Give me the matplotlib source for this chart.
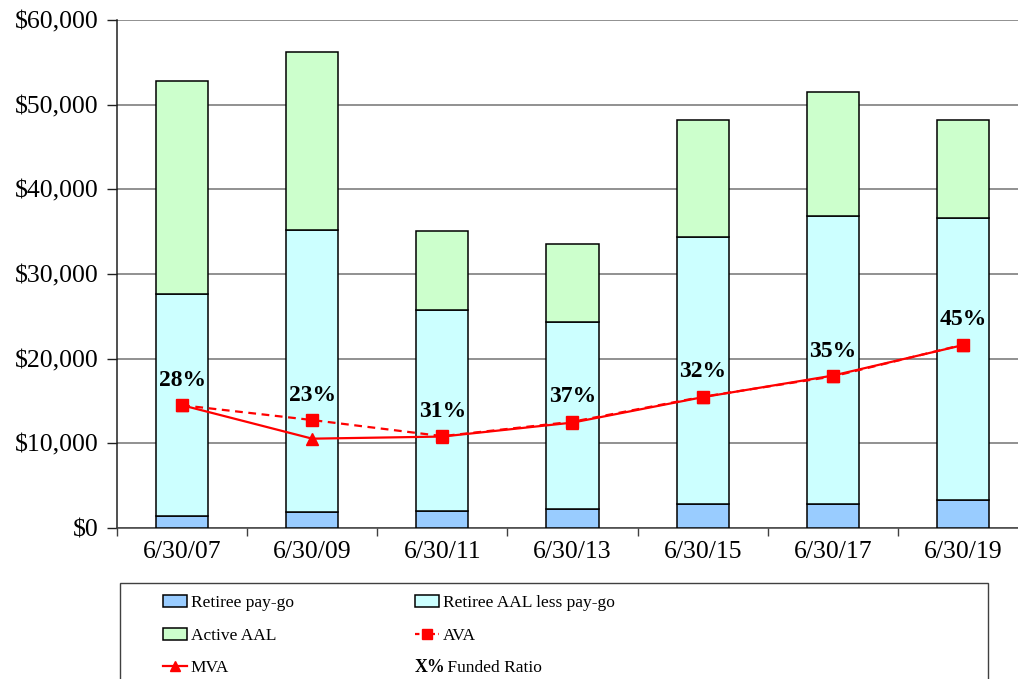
import matplotlib
matplotlib.use("Agg")
import matplotlib.pyplot as plt
import matplotlib.text as mtext
from matplotlib.lines import Line2D
from matplotlib.patches import Patch, Rectangle
import numpy as np

# valuation dates and liability / asset amounts ($ thousands)
datas = ["6/30/07", "6/30/09", "6/30/11", "6/30/13", "6/30/15", "6/30/17", "6/30/19"]
retiree_paygo = [1400, 1850, 2000, 2200, 2800, 2800, 3250]
retiree_aal_total = [27600, 35200, 25750, 24350, 34400, 36800, 36600]
total_aal = [52750, 56200, 35100, 33500, 48200, 51500, 48200]
ava = [14500, 12750, 10850, 12550, 15500, 17900, 21650]
mva = [14500, 10550, 10800, 12450, 15450, 18000, 21600]
funded_ratio = ["28%", "23%", "31%", "37%", "32%", "35%", "45%"]

retiree_less_paygo = [t - p for t, p in zip(retiree_aal_total, retiree_paygo)]
active_aal = [t - r for t, r in zip(total_aal, retiree_aal_total)]

plt.rcParams["font.family"] = ["Liberation Serif", "DejaVu Serif"]

AZUL = "#99CCFF"
CIANO = "#CCFFFF"
VERDE = "#CCFFCC"
VERMELHO = "#FF0000"


class HandlerTexto:
    """Desenha um texto em negrito no lugar do símbolo da legenda."""

    def __init__(self, texto):
        self.texto = texto

    def legend_artist(self, legend, orig_handle, fontsize, handlebox):
        t = mtext.Text(-handlebox.xdescent, 0, self.texto, fontsize=fontsize * 1.02,
                       fontweight="bold", va="baseline", ha="left")
        handlebox.add_artist(t)
        return t


W, H = 1018, 679
fig = plt.figure(figsize=(W / 100, H / 100), dpi=100)
ax = fig.add_axes([117 / W, 1 - 528 / H, (1028 - 117) / W, (528 - 20) / H])

x = np.arange(len(datas))
largura = 0.4
ax.bar(x, retiree_paygo, largura, color=AZUL, edgecolor="black", linewidth=1.1, zorder=3)
ax.bar(x, retiree_less_paygo, largura, bottom=retiree_paygo, color=CIANO,
       edgecolor="black", linewidth=1.1, zorder=3)
ax.bar(x, active_aal, largura, bottom=retiree_aal_total, color=VERDE,
       edgecolor="black", linewidth=1.1, zorder=3)

ax.plot(x, ava, color=VERMELHO, linestyle=(0, (3.5, 2.5)), linewidth=1.6,
        marker="s", markersize=8.5, zorder=5)
ax.plot(x, mva, color=VERMELHO, linestyle="-", linewidth=1.6,
        marker="^", markersize=8.5, zorder=4)

for xi, yi, rotulo in zip(x, ava, funded_ratio):
    ax.annotate(rotulo, (xi, yi), xytext=(0, 18), textcoords="offset points",
                ha="center", va="center", fontsize=17, fontweight="bold", zorder=6)

# eixos
ax.set_xlim(-0.5, len(datas) - 0.5)
ax.set_ylim(0, 60000)
ax.set_yticks(np.arange(0, 60001, 10000))
ax.set_yticklabels([f"${v:,.0f}" for v in np.arange(0, 60001, 10000)])
ax.set_xticks(x)
ax.set_xticklabels(datas)
ax.set_xticks(np.arange(-0.5, len(datas)), minor=True)
ax.tick_params(axis="x", which="major", length=0, pad=9, labelsize=18.5)
ax.tick_params(axis="x", which="minor", length=6, width=1, color="#404040")
ax.tick_params(axis="y", length=7, width=1, color="#202020", pad=6, labelsize=18.5)
ax.grid(axis="y", color="#888888", linewidth=1.3, zorder=0)
for lado in ["top", "right"]:
    ax.spines[lado].set_visible(False)
ax.spines["left"].set_color("#202020")
ax.spines["bottom"].set_color("#404040")
ax.spines["left"].set_linewidth(1.1)
ax.spines["bottom"].set_linewidth(1.1)

# legenda em caixa na parte de baixo
fig.patches.append(Rectangle((120 / W, -0.05), (988 - 120) / W, 0.05 + 1 - 583 / H,
                             transform=fig.transFigure, facecolor="none",
                             edgecolor="#404040", linewidth=1.0))

h_paygo = Patch(facecolor=AZUL, edgecolor="black", linewidth=1.1)
h_less = Patch(facecolor=CIANO, edgecolor="black", linewidth=1.1)
h_active = Patch(facecolor=VERDE, edgecolor="black", linewidth=1.1)
h_ava = Line2D([], [], color=VERMELHO, linestyle=(0, (2, 1.5)), linewidth=1.6,
               marker="s", markersize=7)
h_mva = Line2D([], [], color=VERMELHO, linestyle="-", linewidth=1.6,
               marker="^", markersize=7)
h_fr = object()

opcoes = dict(loc="upper left", frameon=False, borderpad=0, borderaxespad=0,
              handlelength=1.4, handletextpad=0.2, labelspacing=0.95, fontsize=12.5)
fig.legend([h_paygo, h_active, h_mva], ["Retiree pay-go", "Active AAL", "MVA"],
           bbox_to_anchor=(163 / W, 1 - 595 / H), **opcoes)
fig.legend([h_less, h_ava, h_fr], ["Retiree AAL less pay-go", "AVA", " Funded Ratio"],
           bbox_to_anchor=(415 / W, 1 - 595 / H),
           handler_map={h_fr: HandlerTexto("X%")}, **opcoes)

fig.savefig("out.png", dpi=100)
